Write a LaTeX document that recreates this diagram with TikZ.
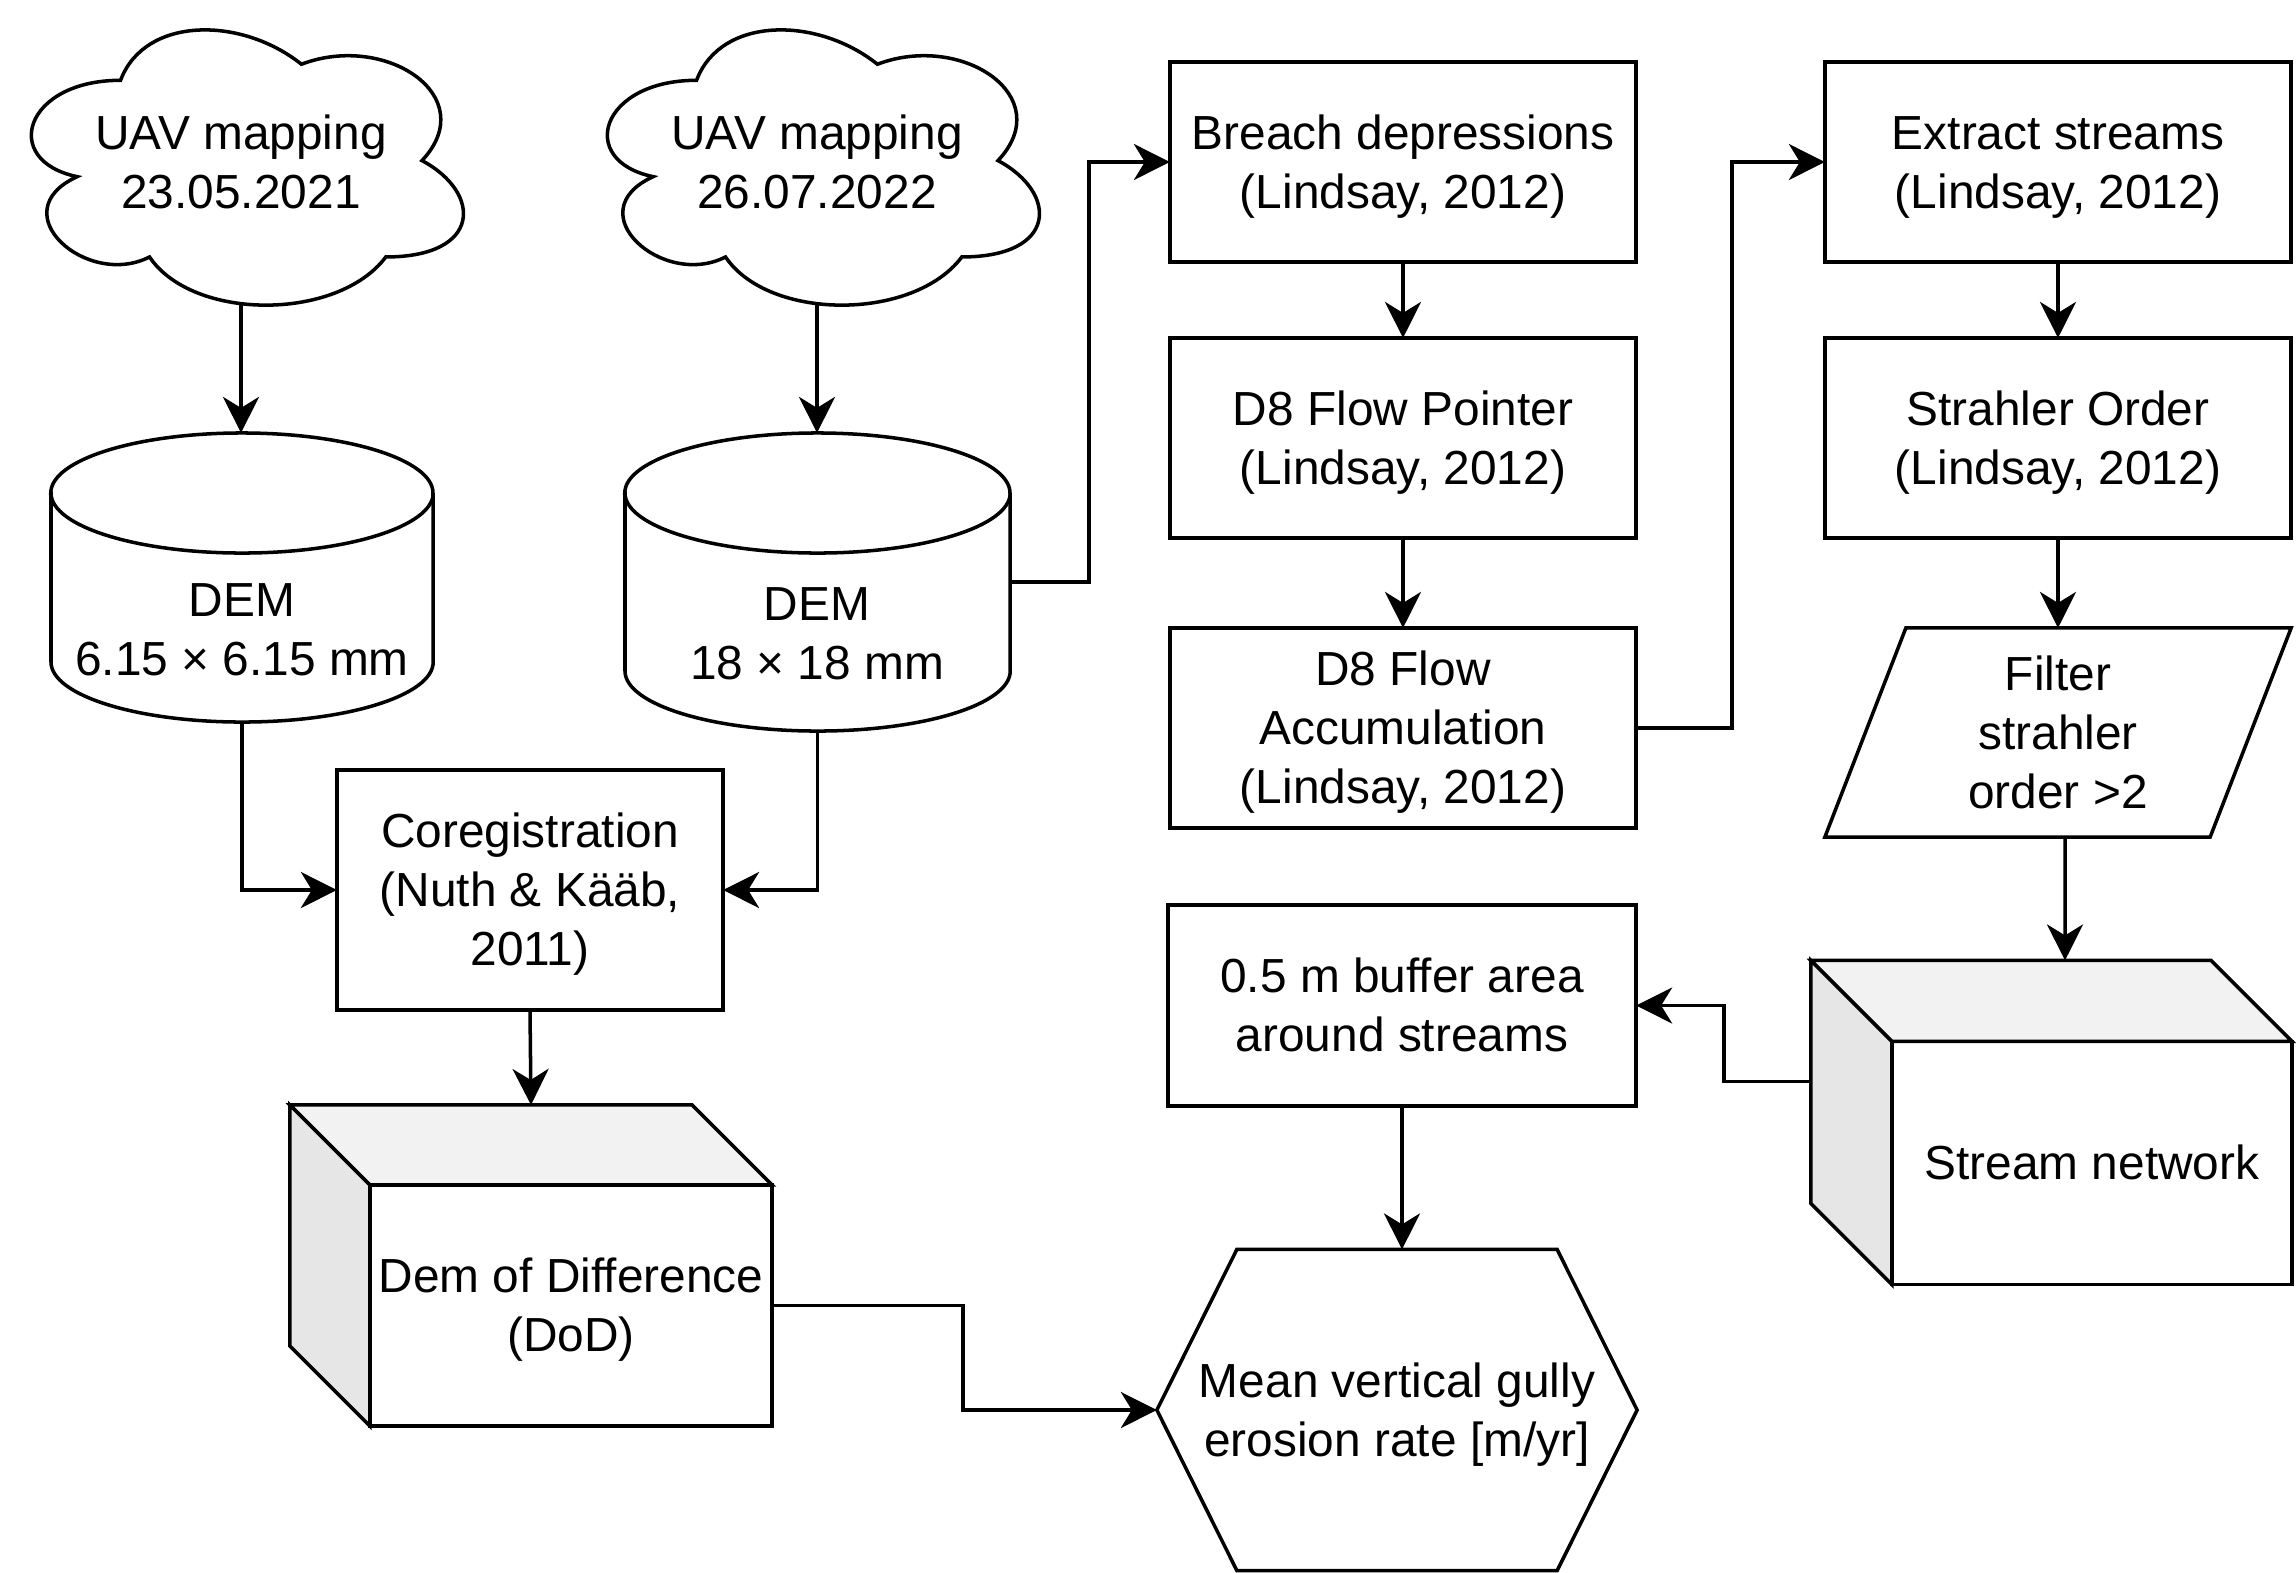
\documentclass[tikz,border=0pt]{standalone}
\usepackage{fontspec}
\setmainfont{Liberation Sans}
\usetikzlibrary{arrows.meta,calc}
\definecolor{topgray}{HTML}{F2F2F2}
\definecolor{leftgray}{HTML}{E6E6E6}
\newcommand\ls{\rule[-3.45pt]{0pt}{16.32pt}}
\begin{document}
\begin{tikzpicture}[x=0.01cm,y=-0.01cm,
  every node/.style={font=\fontsize{13.6pt}{16.8pt}\selectfont, align=center, inner sep=0pt, outer sep=0pt},
  ln/.style={line width=1pt, line join=miter},
  box/.style={ln, draw, fill=white, rectangle, minimum width=4.66cm, minimum height=2cm},
  arr/.style={ln, -{Stealth[length=0.36cm,width=0.36cm,inset=0.11cm]}},
]
\useasboundingbox (0,0) rectangle (2296,1572);

% clouds
\begin{scope}[shift={(0,0)},x=4.82cm,y=-3.21cm]
\draw[ln,fill=white] (0.25,0.25) .. controls (0.05,0.25) and (0,0.5) .. (0.16,0.55)
  .. controls (0,0.66) and (0.18,0.9) .. (0.31,0.8)
  .. controls (0.4,1) and (0.7,1) .. (0.8,0.8)
  .. controls (1,0.8) and (1,0.6) .. (0.875,0.5)
  .. controls (1,0.3) and (0.8,0.1) .. (0.625,0.2)
  .. controls (0.5,0.05) and (0.3,0.05) .. (0.25,0.25) -- cycle;
\end{scope}
\begin{scope}[shift={(576,0)},x=4.82cm,y=-3.21cm]
\draw[ln,fill=white] (0.25,0.25) .. controls (0.05,0.25) and (0,0.5) .. (0.16,0.55)
  .. controls (0,0.66) and (0.18,0.9) .. (0.31,0.8)
  .. controls (0.4,1) and (0.7,1) .. (0.8,0.8)
  .. controls (1,0.8) and (1,0.6) .. (0.875,0.5)
  .. controls (1,0.3) and (0.8,0.1) .. (0.625,0.2)
  .. controls (0.5,0.05) and (0.3,0.05) .. (0.25,0.25) -- cycle;
\end{scope}
\node (cloud1) [minimum width=4.31cm, minimum height=2.86cm] at (241,162) {\ls UAV mapping\\23.05.2021\ls};
\node (cloud2) [minimum width=4.31cm, minimum height=2.86cm] at (817,162) {\ls UAV mapping\\26.07.2022\ls};

% cylinders
\node (cyl1) [minimum width=3.82cm, minimum height=2.89cm] at (242,577.5) {};
\draw[ln,fill=white] (51,493) -- (51,662) arc[start angle=180,end angle=360,x radius=1.91cm,y radius=0.6cm]
  -- (433,493) arc[start angle=0,end angle=180,x radius=1.91cm,y radius=0.6cm] -- cycle;
\draw[ln] (51,493) arc[start angle=180,end angle=360,x radius=1.91cm,y radius=0.6cm];
\node (cyl1t) at (242,629) {\ls DEM\\6.15 × 6.15 mm\ls};

\node (cyl2) [minimum width=3.85cm, minimum height=2.98cm] at (817.5,582) {};
\draw[ln,fill=white] (625,493) -- (625,671) arc[start angle=180,end angle=360,x radius=1.925cm,y radius=0.6cm]
  -- (1010,493) arc[start angle=0,end angle=180,x radius=1.925cm,y radius=0.6cm] -- cycle;
\draw[ln] (625,493) arc[start angle=180,end angle=360,x radius=1.925cm,y radius=0.6cm];
\node (cyl2t) at (817,633) {\ls DEM\\18 × 18 mm\ls};

% boxes
\node (coreg) [box, minimum width=3.86cm, minimum height=2.4cm] at (530,890) {\ls Coregistration\\(Nuth \& Kääb,\\2011)\ls};
\node (breach) [box] at (1403,162) {\ls Breach depressions\\(Lindsay, 2012)\ls};
\node (pointer) [box] at (1403,438) {\ls D8 Flow Pointer\\(Lindsay, 2012)\ls};
\node (accum) [box] at (1403,728) {\ls D8 Flow\\Accumulation\\(Lindsay, 2012)\ls};
\node (extract) [box] at (2058,162) {\ls Extract streams\\(Lindsay, 2012)\ls};
\node (strahler) [box] at (2058,438) {\ls Strahler Order\\(Lindsay, 2012)\ls};
\node (buffer) [box, minimum width=4.68cm, minimum height=2.01cm] at (1402,1005.5) {\ls 0.5 m buffer area\\around streams\ls};

% filter parallelogram
\node (filter) [minimum width=4.66cm, minimum height=2.09cm] at (2058,732.5) {\ls Filter\\strahler\\order >2\ls};
\draw[ln] ($(filter.north west)+(81,0)$) -- (filter.north east) -- ($(filter.south east)+(-81,0)$) -- (filter.south west) -- cycle;

% hexagon
\node (hex) [minimum width=4.8cm, minimum height=3.21cm] at (1397,1410) {\ls Mean vertical gully\\erosion rate [m/yr]\ls};
\draw[ln] (hex.west) -- ($(hex.north west)+(80,0)$) -- ($(hex.north east)+(-80,0)$) -- (hex.east)
  -- ($(hex.south east)+(-80,0)$) -- ($(hex.south west)+(80,0)$) -- cycle;

% DoD cube
\node (dod) [ln, draw, fill=white, minimum width=4.02cm, minimum height=2.41cm] at (571,1305.5) {\ls Dem of Difference\\(DoD)\ls};
\draw[ln, fill=topgray] (dod.north west) -- ++(-80,-80) -- ($(dod.north east)+(-80,-80)$) -- (dod.north east) -- cycle;
\draw[ln, fill=leftgray] (dod.north west) -- ++(-80,-80) -- ($(dod.south west)+(-80,-80)$) -- (dod.south west) -- cycle;
\coordinate (dodtop) at ($(dod.north)+(-40,-80)$);

% Stream network cube
\node (stream) [ln, draw, fill=white, minimum width=4.0cm, minimum height=2.43cm] at (2092,1163) {\ls Stream network\ls};
\draw[ln, fill=topgray] (stream.north west) -- ++(-81,-81) -- ($(stream.north east)+(-81,-81)$) -- (stream.north east) -- cycle;
\draw[ln, fill=leftgray] (stream.north west) -- ++(-81,-81) -- ($(stream.south west)+(-81,-81)$) -- (stream.south west) -- cycle;
\coordinate (streamtop) at ($(stream.north)+(-27,-81)$);
\coordinate (streamleft) at ($(stream.north west)+(-81,40)$);

% connectors
\draw[arr] (cloud1.south) -- (cloud1.south |- cyl1.north);
\draw[arr] (cloud2.south) -- (cloud2.south |- cyl2.north);
\draw[arr] (cyl1.south) |- (coreg.west);
\draw[arr] (cyl2.south) |- (coreg.east);
\draw[arr] (cyl2.east) -- ++(79,0) |- (breach.west);
\draw[arr] (breach.south) -- (pointer.north);
\draw[arr] (pointer.south) -- (accum.north);
\draw[arr] (accum.east) -- ++(96,0) |- (extract.west);
\draw[arr] (extract.south) -- (strahler.north);
\draw[arr] (strahler.south) -- (filter.north);
\draw[arr] ([xshift=0.07cm]filter.south) -- (streamtop);
\draw[arr] (streamleft) -- ++(-87,0) |- (buffer.east);
\draw[arr] (buffer.south) -- (buffer.south |- hex.north);
\draw[arr] (coreg.south) -- (dodtop);
\draw[arr] (dod.east) -- ++(191,0) |- (hex.west);
\end{tikzpicture}
\end{document}
